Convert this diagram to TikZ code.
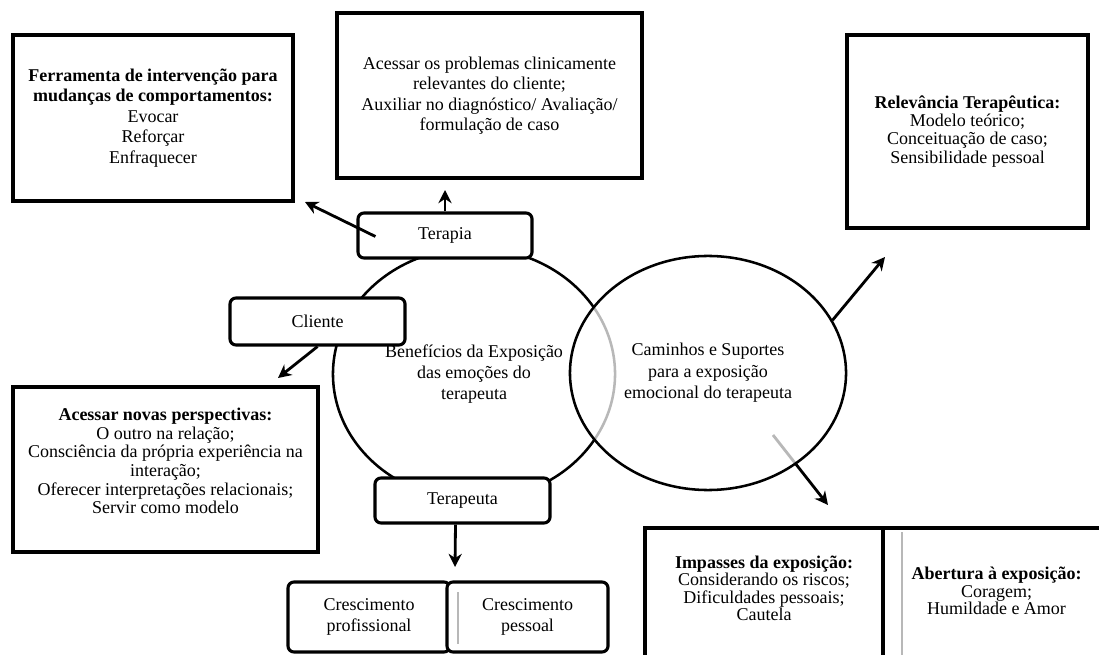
\documentclass[tikz,border=0pt]{standalone}
\usepackage{fontspec}
\setmainfont{Liberation Serif}
\usetikzlibrary{arrows.meta, shapes.geometric, calc}

\begin{document}
\begin{tikzpicture}[x=0.025cm, y=-0.025cm,
    txt/.style={font=\fontsize{12.8}{14.6}\selectfont, align=center},
    bigbox/.style={draw, line width=2.4pt, fill=white, txt, inner sep=0pt},
    roundbox/.style={draw, line width=2.2pt, rounded corners=0.15cm, fill=white, txt, inner sep=0pt},
    bubble/.style={draw, ellipse, line width=1.8pt, inner sep=0pt, align=center,
        font=\fontsize{12.8}{15.2}\selectfont},
    arrow/.style={-{Stealth[length=3.3mm, width=3.3mm]}, line width=2pt}]
        % Define colours
        \definecolor{ghost}{gray}{0.72}
        % Fix the page size
        \useasboundingbox (0,0) rectangle (1099,655);
        \clip (0,0) rectangle (1099,655);

        % Draw the big boxes
        \node[bigbox, minimum width=7cm, minimum height=4.15cm] (ferramenta) at (153,118)
            {\textbf{Ferramenta de intervenção para}\\\textbf{mudanças de comportamentos:}\\Evocar\\Reforçar\\Enfraquecer};
        \node[bigbox, minimum width=7.625cm, minimum height=4.125cm] (acessar) at (489.5,95.5)
            {Acessar os problemas clinicamente\\relevantes do cliente;\\Auxiliar no diagnóstico/ Avaliação/\\formulação de caso};
        \node[bigbox, minimum width=6.025cm, minimum height=4.825cm, font=\fontsize{12.8}{12.9}\selectfont] (relevancia) at (967.5,131.5)
            {\textbf{Relevância Terapêutica:}\\Modelo teórico;\\Conceituação de caso;\\Sensibilidade pessoal};
        \node[bigbox, minimum width=7.625cm, minimum height=4.125cm, font=\fontsize{12.8}{13.3}\selectfont] (novas) at (165.5,469.5)
            {\textbf{Acessar novas perspectivas:}\\O outro na relação;\\Consciência da própria experiência na\\interação;\\Oferecer interpretações relacionais;\\Servir como modelo\\[-1pt]\mbox{}};

        % Draw the two circles
        \node[bubble, minimum width=7.05cm, minimum height=6.3cm] (beneficios) at (474,374)
            {Benefícios da Exposição\\das emoções do\\terapeuta};
        \coordinate (impstart) at (773,435);
        \coordinate (imptip) at (828,505);
        \draw[arrow] (impstart) -- (imptip);
        \node[bubble, minimum width=6.9cm, minimum height=5.85cm, fill=white,
            fill opacity=0.72, text opacity=1] (caminhos) at (708,373)
            {Caminhos e Suportes\\para a exposição\\emocional do terapeuta};

        % Draw the rounded boxes on the circle
        \node[roundbox, minimum width=4.35cm, minimum height=1.125cm] (terapia) at (445,235.5) {Terapia};
        \node[roundbox, minimum width=4.375cm, minimum height=1.175cm] (cliente) at (317.5,321.5) {Cliente};
        \node[roundbox, minimum width=4.375cm, minimum height=1.125cm] (terapeuta) at (462.5,500.5) {Terapeuta};

        % Draw the growth boxes
        \node[roundbox, minimum width=4.05cm, minimum height=1.75cm] (profissional) at (369,617)
            {Crescimento\\profissional};
        \node[roundbox, minimum width=4.025cm, minimum height=1.75cm] (pessoal) at (527.5,617)
            {Crescimento\\pessoal};

        % Draw the boxes at the bottom right
        \node[bigbox, minimum width=5.95cm, minimum height=3.3cm, font=\fontsize{12.8}{12.4}\selectfont] (impasses) at (764,594)
            {\textbf{Impasses da exposição:}\\Considerando os riscos;\\Dificuldades pessoais;\\Cautela\\[-4pt]\mbox{}};
        \node[bigbox, minimum width=5.675cm, minimum height=3.3cm, font=\fontsize{12.8}{12.4}\selectfont] (abertura) at (996.5,594)
            {\textbf{Abertura à exposição:}\\Coragem;\\Humildade e Amor\\[-8pt]\mbox{}};
        \draw[ghost, line width=1pt] (458,592) -- (458,644);
        \draw[ghost, line width=1.2pt] (902,532) -- (902,660);

        % Draw the arrows
        \coordinate (acessartip) at (445,190);
        \coordinate (ferramentatip) at (305,202);
        \coordinate (novastip) at (278,378);
        \coordinate (crescimentotip) at (455,567);
        \coordinate (relevanciatip) at (885,257);
        \draw[arrow] (terapia.north) -- (acessartip);
        \draw[arrow] ($(terapia.west)+(19,1)$) -- (ferramentatip);
        \draw[arrow] (cliente.south) -- (novastip);
        \draw[arrow] ($(terapeuta.south)+(-7,0)$) -- (crescimentotip);
        \draw[arrow] (caminhos.23) -- (relevanciatip);
\end{tikzpicture}
\end{document}
